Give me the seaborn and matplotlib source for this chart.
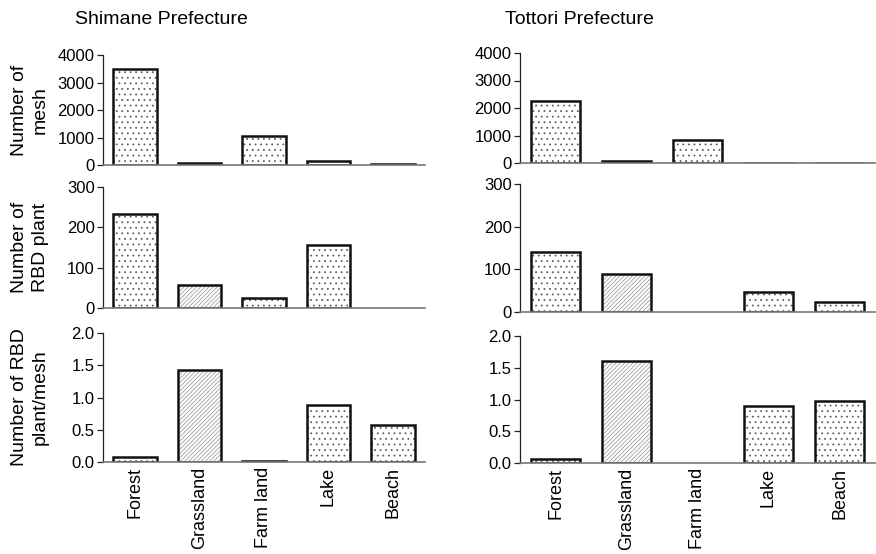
import numpy as np
import pandas as pd
import seaborn as sns
import matplotlib.pyplot as plt

# land use categories
categories = ["Forest", "Grassland", "Farm land", "Lake", "Beach"]

# Shimane Prefecture
shimane_mesh = [3480, 60, 1060, 160, 20]
shimane_plant = [234, 58, 26, 155, 0]
shimane_ratio = [0.07, 1.43, 0.01, 0.88, 0.57]

# Tottori Prefecture
tottori_mesh = [2250, 80, 820, 10, 10]
tottori_plant = [140, 89, 0, 46, 24]
tottori_ratio = [0.06, 1.61, 0, 0.90, 0.97]

row_labels = ["Number of\nmesh", "Number of\nRBD plant", "Number of RBD\nplant/mesh"]
y_limits = [(0, 4000), (0, 300), (0, 2.0)]
y_ticks = [[0, 1000, 2000, 3000, 4000], [0, 100, 200, 300], [0, 0.5, 1.0, 1.5, 2.0]]
y_fmt = ["{:.0f}", "{:.0f}", "{:.1f}"]

hatches = ["...", "////////", "...", "...", "..."]
hatch_colors = ["#606060", "#a0a0a0", "#606060", "#606060", "#606060"]

sns.set_style("ticks")
plt.rcParams['font.family'] = ['Liberation Sans', 'DejaVu Sans']
plt.rcParams['hatch.linewidth'] = 0.6
plt.rcParams['text.color'] = 'black'
plt.rcParams['xtick.labelcolor'] = 'black'
plt.rcParams['ytick.labelcolor'] = 'black'

fig = plt.figure(figsize=(8.76, 5.54), dpi=100)
W, H = 876, 554

# axes boxes in pixels: (left, top, right, bottom)
boxes = {
    0: [(103, 55, 425, 165), (103, 187, 425, 308), (103, 333, 425, 462)],
    1: [(520, 53, 875, 163), (520, 184, 875, 312), (520, 336, 875, 463)],
}

data = {0: [shimane_mesh, shimane_plant, shimane_ratio],
        1: [tottori_mesh, tottori_plant, tottori_ratio]}

for col in [0, 1]:
    for row in range(3):
        l, t, r, b = boxes[col][row]
        ax = fig.add_axes([l / W, (H - b) / H, (r - l) / W, (b - t) / H])
        df = pd.DataFrame({"landuse": categories, "value": data[col][row]})
        # hatch layer (hatch follows edge colour, so no outline here)
        sns.barplot(data=df, x="landuse", y="value", color="white",
                    width=0.68, saturation=1, ax=ax)
        for p, h, hc in zip(ax.patches, hatches, hatch_colors):
            p.set_hatch(h)
            p.set_edgecolor(hc)
            p.set_linewidth(0)
        n = len(ax.patches)
        # outline layer
        sns.barplot(data=df, x="landuse", y="value", fill=False, color="#111111",
                    linewidth=1.8, width=0.68, saturation=1, ax=ax)
        for p in ax.patches[n:]:
            p.set_edgecolor("#111111")
        for p, v in zip(ax.patches[n:], data[col][row]):
            if v == 0:
                p.set_visible(False)
        ax.set_xlim(-0.5, 4.5)
        ax.set_ylim(*y_limits[row])
        ax.set_yticks(y_ticks[row])
        ax.set_yticklabels([y_fmt[row].format(v) for v in y_ticks[row]], fontsize=12)
        ax.set_ylabel("")
        ax.set_xlabel("")
        sns.despine(ax=ax)
        ax.spines["left"].set_color("#222222")
        ax.spines["left"].set_linewidth(0.9)
        ax.spines["bottom"].set_color("#777777")
        ax.spines["bottom"].set_linewidth(1.2)
        ax.tick_params(axis="y", length=4, width=0.9, pad=2, color="#222222",
                       labelcolor="black")
        ax.tick_params(axis="x", length=0, labelcolor="black")
        if row == 2:
            ax.set_xticks(range(len(categories)))
            ax.set_xticklabels(categories, rotation=90, fontsize=13)
        else:
            ax.set_xticklabels([])
        if col == 0:
            yc = (t + b) / 2
            fig.text(30 / W, 1 - yc / H, row_labels[row], rotation=90,
                     ha="center", va="center", fontsize=14, multialignment="center",
                     linespacing=1.3, color="black")

fig.text(75 / W, 1 - 20 / H, "Shimane Prefecture", ha="left", va="center", fontsize=14, color="black")
fig.text(505 / W, 1 - 20 / H, "Tottori Prefecture", ha="left", va="center", fontsize=14, color="black")

fig.savefig("out.png", dpi=100)
